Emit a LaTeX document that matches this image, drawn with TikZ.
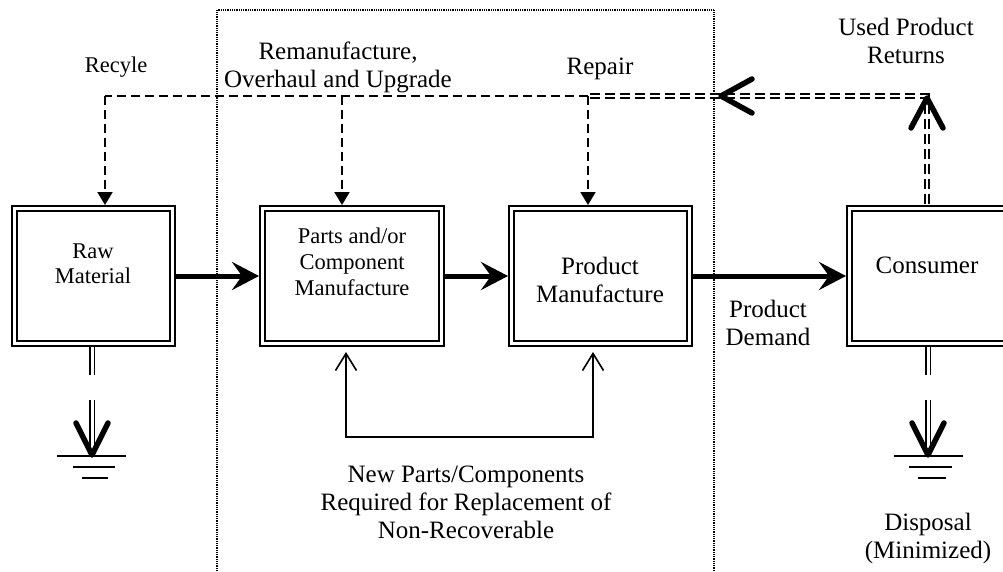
\documentclass[tikz,border=0pt]{standalone}
\usepackage{fontspec}
\setmainfont{Liberation Serif}
\usetikzlibrary{arrows.meta}
\begin{document}
\begin{tikzpicture}[x=1pt,y=-1pt,
  box/.style={draw, line width=2pt, double, double distance=3pt, rectangle, inner sep=0pt, outer sep=3.5pt, minimum height=135pt},
  big/.style={font=\fontsize{25}{28}\selectfont, align=center, inner sep=0pt, anchor=base},
  small/.style={font=\fontsize{22.5}{26}\selectfont, align=center, inner sep=0pt, anchor=base},
  flow/.style={line width=5pt, -{Stealth[length=27pt,width=28pt,inset=10pt]}},
  dsh/.style={line width=2pt, dash pattern=on 9pt off 5pt},
  dsharrow/.style={dsh, -{Triangle[length=13pt,width=15pt]}},
  ddsh/.style={line width=1.6pt, double, double distance=2.6pt, dash pattern=on 10pt off 5pt},
  chev/.style={line width=5.5pt, line cap=round, line join=round},
  gnddbl/.style={line width=1.4pt, double, double distance=3pt},
  gndline/.style={line width=1.6pt},
  fb/.style={line width=1.6pt, {Straight Barb[length=17pt,width=21pt]}-{Straight Barb[length=17pt,width=21pt]}},
  frame/.style={line width=1.3pt, dash pattern=on 1pt off 0.8pt}]
\useasboundingbox (0,0) rectangle (1003,572);
\clip (0,0) rectangle (1003,572);

% dotted frame
\draw[frame] (217,580) -- (217,10) -- (714,10) -- (714,580);

% boxes
\node[box, minimum width=158pt] (raw) at (93.5,276) {};
\node[box, minimum width=179pt] (parts) at (352,276) {};
\node[box, minimum width=178pt] (prod) at (600.5,276) {};
\node[box, minimum width=187pt] (cons) at (943,276) {};

% box texts (anchor = baseline of last line)
\node[small, font=\fontsize{22.5}{25}\selectfont] (rawt) at (93,283) {Raw\\Material};
\node[small] (partst) at (352,295) {Parts and/or\\Component\\Manufacture};
\node[big] (prodt) at (600,302) {Product\\Manufacture};
\node[big] (const) at (927,273) {Consumer};

% main flow
\draw[flow] (raw.east) -- (parts.west);
\draw[flow] (parts.east) -- (prod.west);
\draw[flow] (prod.east) -- (cons.west);

% return loops
\coordinate (rec) at (105,96);
\coordinate (rem) at (342,96);
\coordinate (rep) at (588,96);
\coordinate (ret) at (927,96);
\coordinate (retb) at (927,204);
\draw[ddsh] (retb) -- (ret) -- (rep);
\draw[dsh] (rep) -- (rec);
\draw[dsharrow] (rec) -- (rec |- raw.north);
\draw[dsharrow] (rem) -- (rem |- parts.north);
\draw[dsharrow] (rep) -- (rep |- prod.north);
\draw[chev] (752,79) -- (721,96) -- (752,113);
\draw[chev] (911,128) -- (927,98) -- (943,128);

% replacement parts
\coordinate (fa) at (346,352);
\coordinate (fbb) at (593,352);
\draw[fb] (fa) -- (346,437) -- (593,437) -- (fbb);

% disposal grounds
\coordinate (g1) at (92,455);
\draw[gnddbl] (92,347) -- (92,375);
\draw[gnddbl] (92,400) -- (92,451);
\draw[chev] (76,423) -- (g1) -- (108,423);
\draw[gndline] (57,456) -- (126,456);
\draw[gndline] (73,467) -- (115,467);
\draw[gndline] (82,478) -- (108,478);

\coordinate (g2) at (928,455);
\draw[gnddbl] (928,347) -- (928,375);
\draw[gnddbl] (928,400) -- (928,451);
\draw[chev] (912,423) -- (g2) -- (944,423);
\draw[gndline] (894,456) -- (963,456);
\draw[gndline] (909,467) -- (952,467);
\draw[gndline] (918,478) -- (946,478);

% labels
\node[small] (recl) at (116,73) {Recyle};
\node[big] (reml) at (338,88) {Remanufacture,\\Overhaul and Upgrade};
\node[big] (repl) at (600,75) {Repair};
\node[big, font=\fontsize{25}{28.5}\selectfont] (retl) at (906,64) {Used Product\\Returns};
\node[big] (deml) at (768,345) {Product\\Demand};
\node[big] (newl) at (466,538) {New Parts/Components\\Required for Replacement of\\Non-Recoverable};
\node[big] (disl) at (928,558) {Disposal\\(Minimized)};
\end{tikzpicture}
\end{document}
